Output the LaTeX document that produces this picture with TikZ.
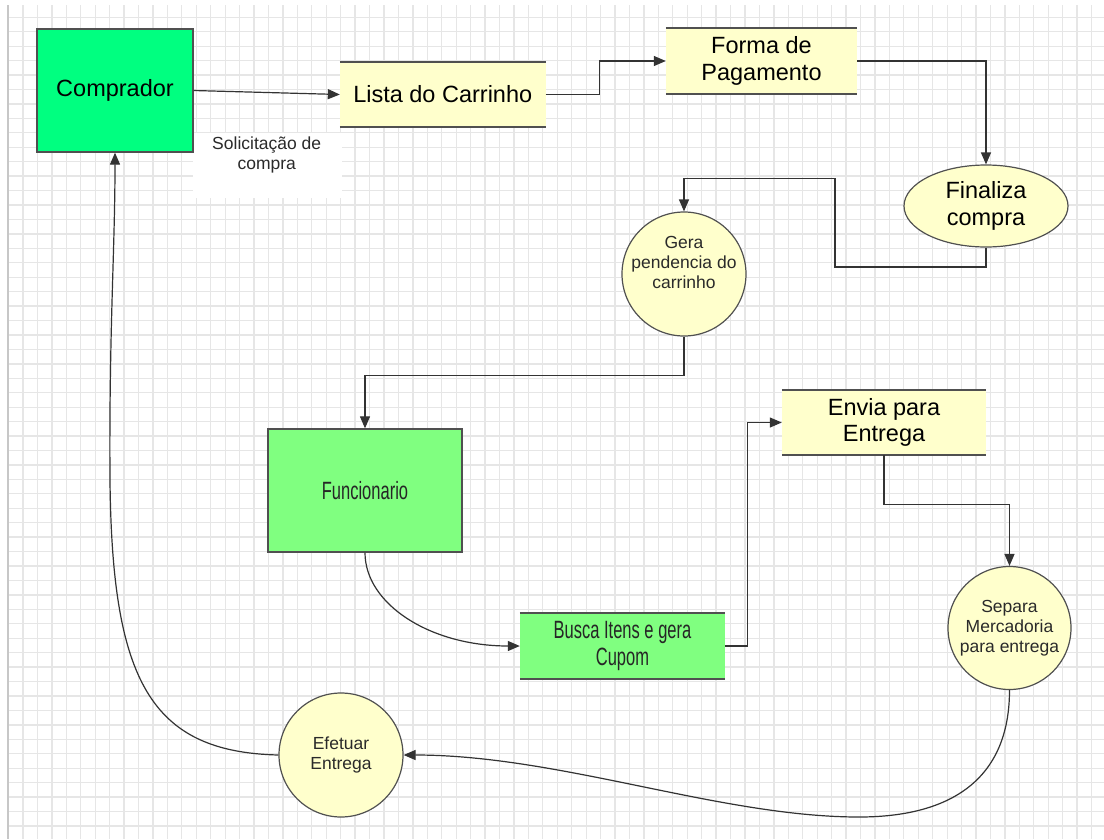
\documentclass[tikz,border=0pt]{standalone}
\usepackage{fontspec}
\setmainfont{Liberation Sans}
\newfontfamily\condfont{Liberation Sans}[FakeStretch=0.66]
\usetikzlibrary{arrows.meta,shapes.geometric}
\definecolor{gridc}{HTML}{E6E6E6}
\definecolor{linec}{HTML}{333333}
\definecolor{borderc}{HTML}{505050}
\definecolor{yell}{HTML}{FFFFCC}
\definecolor{green1}{HTML}{00FF80}
\definecolor{green2}{HTML}{80FF80}
\definecolor{txtc}{HTML}{2A2A2A}
\begin{document}
\begin{tikzpicture}[x=1pt,y=-1pt,
  gridline/.style={draw=gridc,line width=1.3pt},
  conn/.style={draw=linec,line width=1.2pt,-{Triangle[length=12pt,width=10pt]}},
  bigtext/.style={font=\fontsize{23.5}{26.5}\selectfont,align=center,text=black},
  smalltext/.style={font=\fontsize{17.5}{20}\selectfont,align=center,text=txtc},
  condtext/.style={font=\condfont\fontsize{25}{27}\selectfont,align=center,text=black!85},
  box/.style={rectangle,draw=borderc,line width=1.3pt,inner sep=0pt},
  store/.style={rectangle,inner sep=0pt},
  storeline/.style={draw=borderc,line width=1.8pt},
  circ/.style={circle,draw=borderc,line width=1.2pt,fill=yell,inner sep=0pt,minimum size=124pt},
]
\useasboundingbox (0,0) rectangle (1104,839);
\fill[white] (0,0) rectangle (1104,839);
% grid
\foreach \i in {0,...,74} {\draw[gridline] ({23+14.44*\i},5) -- ({23+14.44*\i},839);}
\foreach \j in {0,...,56} {\draw[gridline] (8,{17.3+14.44*\j}) -- (1104,{17.3+14.44*\j});}
\draw[draw=black!22,line width=1.6pt] (7.8,5) -- (7.8,839);

% label background
\node[fill=white,inner sep=0pt,minimum width=149pt,minimum height=65pt] (solbg) at (267.5,165.5) {};
\node[smalltext] (sol) at (266.7,155) {Solicitação de\\compra};

% nodes
\node[box,fill=green1,minimum width=156pt,minimum height=123pt,bigtext] (comprador) at (115,90.5) {Comprador};
\node[store,fill=yell,minimum width=205.5pt,minimum height=65pt,bigtext] (lista) at (442.75,94.5) {Lista do Carrinho};
\node[store,fill=yell,minimum width=191pt,minimum height=66pt,bigtext] (forma) at (761.5,61) {Forma de\\Pagamento};
\node[ellipse,draw=borderc,line width=1.2pt,fill=yell,inner sep=0pt,minimum width=164pt,minimum height=82pt,bigtext] (finaliza) at (986,206) {Finaliza\\compra};
\node[circ] (gera) at (684,274) {};
\node[smalltext] (geratxt) at (684,262) {Gera\\pendencia do\\carrinho};
\node[box,fill=green2,minimum width=194pt,minimum height=123pt,condtext] (func) at (365,490.5) {Funcionario};
\node[store,fill=green2,minimum width=205pt,minimum height=66pt,condtext] (busca) at (622.5,646) {Busca Itens e gera\\Cupom};
\node[store,fill=yell,minimum width=204pt,minimum height=65pt,bigtext] (envia) at (884,422.5) {Envia para\\Entrega};
\node[circ,minimum size=123pt,smalltext] (separa) at (1009.5,628) {Separa\\Mercadoria\\para entrega};
\node[circ,smalltext] (efetuar) at (341,755) {Efetuar\\Entrega};

\foreach \n in {lista,forma,busca,envia} {
  \draw[storeline] (\n.north west) -- (\n.north east) (\n.south west) -- (\n.south east);
}

% connectors
\draw[conn] (comprador.east) -- (lista.west);
\draw[conn] (lista.east) -- ++(53.5,0) |- (forma.west);
\draw[conn] (forma.east) -| (finaliza.north);
\coordinate (fg1) at (835,267);
\coordinate (fg2) at (835,178.5);
\draw[conn] (finaliza.south) |- (fg1) -- (fg2) -| (gera.north);
\draw[conn] (gera.south) -- ++(0,39) -| (func.north);
\draw[conn] (func.south) .. controls (365,604) and (430,646) .. (busca.west);
\draw[conn] (busca.east) -- ++(22,0) |- (envia.west);
\draw[conn] (envia.south) -- ++(0,49) -| (separa.north);
\coordinate (sb) at (859,817);
\draw[conn] (separa.south) .. controls (1009.5,780) and (950,817) .. (sb) .. controls (720,817) and (560,755) .. (efetuar.east);
\coordinate (eb) at (110,480);
\draw[conn] (efetuar.west) .. controls (150,752) and (112,680) .. (eb) .. controls (109,330) and (115,250) .. (comprador.south);
\end{tikzpicture}
\end{document}
